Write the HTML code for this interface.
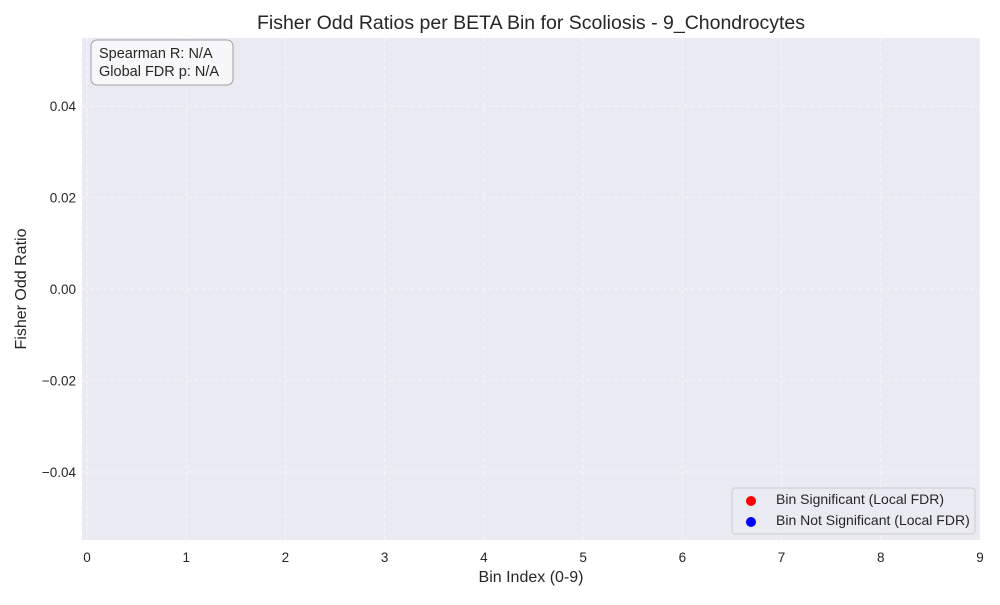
<!DOCTYPE html>
<html><head><meta charset="utf-8"><style>
body{margin:0;background:#fff;font-family:"Liberation Sans",Arial,sans-serif}
svg text{font-family:"Liberation Sans",Arial,sans-serif;fill:#262626}
</style></head><body>
<svg id="chart" width="1000" height="600" xmlns="http://www.w3.org/2000/svg">
<rect x="82" y="38" width="898" height="502" fill="#eaeaf2"/>
<g id="grid"></g>
<g id="points"></g>
<g id="ticks"></g>
<text x="531" y="29" text-anchor="middle" font-size="19.5">Fisher Odd Ratios per BETA Bin for Scoliosis - 9_Chondrocytes</text>
<text x="531" y="582" text-anchor="middle" font-size="16">Bin Index (0-9)</text>
<text x="26" y="289" text-anchor="middle" font-size="16" transform="rotate(-90 26 289)">Fisher Odd Ratio</text>
<g>
<rect x="91" y="40" width="142" height="45" rx="6" fill="#f7f7f9" stroke="#a0a0a0" stroke-width="1"/>
<text x="99" y="58" font-size="14.5">Spearman R: N/A</text>
<text x="99" y="76" font-size="14.5">Global FDR p: N/A</text>
</g>
<g>
<rect x="732" y="488" width="243" height="46" rx="3" fill="#eaeaf2" stroke="#cccccc"/>
<circle cx="751" cy="501" r="5" fill="#ff0000"/>
<text x="776" y="504" font-size="14">Bin Significant (Local FDR)</text>
<circle cx="751" cy="522" r="5" fill="#0000ff"/>
<text x="776" y="525" font-size="14">Bin Not Significant (Local FDR)</text>
</g>
</svg>
<script>
const xTicks=[0,1,2,3,4,5,6,7,8,9];
const yTicks=[0.04,0.02,0.00,-0.02,-0.04];
const yTickLabels=["0.04","0.02","0.00","\u22120.02","\u22120.04"];
const bins=[];
const oddRatios=[];
const significant=[];
const NS="http://www.w3.org/2000/svg";
function xs(v){return 87+v*(980-87)/9;}
function ys(v){return 289-v*4575;}
const grid=document.getElementById('grid'),ticks=document.getElementById('ticks'),pts=document.getElementById('points');
function mk(t,a){const e=document.createElementNS(NS,t);for(const k in a)e.setAttribute(k,a[k]);return e;}
xTicks.forEach(v=>{
 const l=mk('line',{x1:xs(v),x2:xs(v),y1:38,y2:540,stroke:'#ffffff','stroke-opacity':0.7,'stroke-dasharray':'4,3','stroke-width':0.8});
 
 
 grid.appendChild(l);
 const t=mk('text',{x:xs(v),y:562,'text-anchor':'middle','font-size':13.5});t.textContent=v;
 
 
 ticks.appendChild(t);
});
yTicks.forEach((v,i)=>{
 const l=mk('line',{x1:82,x2:980,y1:ys(v),y2:ys(v),stroke:'#ffffff','stroke-opacity':0.7,'stroke-dasharray':'4,3','stroke-width':0.8});
 
 
 grid.appendChild(l);
 const t=mk('text',{x:76,y:ys(v)+5,'text-anchor':'end','font-size':13.5});t.textContent=yTickLabels[i];
 
 
 ticks.appendChild(t);
});
bins.forEach((b,i)=>{
 const c=mk('circle',{cx:xs(b),cy:ys(oddRatios[i]),r:5,fill:significant[i]?'#ff0000':'#0000ff'});
 
 
 pts.appendChild(c);
});
</script>
</body></html>
